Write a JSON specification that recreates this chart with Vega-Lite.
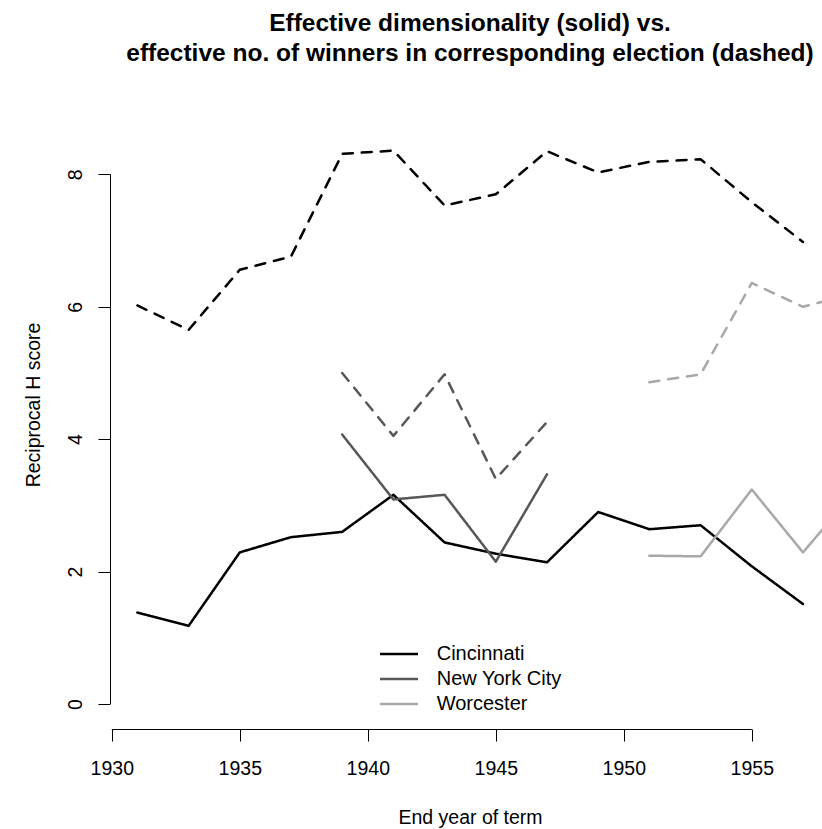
{
  "$schema": "https://vega.github.io/schema/vega-lite/v6.json",
  "width": 712,
  "height": 601,
  "autosize": {"type": "none"},
  "padding": {"left": 110, "top": 128, "right": 0, "bottom": 100},
  "background": "white",
  "config": {"view": {"stroke": null}, "font": "Liberation Sans"},
  "title": {
    "text": ["Effective dimensionality (solid) vs.", "effective no. of winners in corresponding election (dashed)"],
    "fontSize": 24.5,
    "fontWeight": "bold",
    "font": "Liberation Sans",
    "color": "black",
    "anchor": "middle",
    "offset": 62,
    "lineHeight": 30,
    "dx": 4
  },
  "datasets": {
    "series": [
      {"city": "Cincinnati", "kind": "dim", "year": 1931, "value": 1.38},
      {"city": "Cincinnati", "kind": "dim", "year": 1933, "value": 1.18},
      {"city": "Cincinnati", "kind": "dim", "year": 1935, "value": 2.29},
      {"city": "Cincinnati", "kind": "dim", "year": 1937, "value": 2.52},
      {"city": "Cincinnati", "kind": "dim", "year": 1939, "value": 2.60},
      {"city": "Cincinnati", "kind": "dim", "year": 1941, "value": 3.16},
      {"city": "Cincinnati", "kind": "dim", "year": 1943, "value": 2.44},
      {"city": "Cincinnati", "kind": "dim", "year": 1945, "value": 2.27},
      {"city": "Cincinnati", "kind": "dim", "year": 1947, "value": 2.14},
      {"city": "Cincinnati", "kind": "dim", "year": 1949, "value": 2.90},
      {"city": "Cincinnati", "kind": "dim", "year": 1951, "value": 2.64},
      {"city": "Cincinnati", "kind": "dim", "year": 1953, "value": 2.70},
      {"city": "Cincinnati", "kind": "dim", "year": 1955, "value": 2.08},
      {"city": "Cincinnati", "kind": "dim", "year": 1957, "value": 1.51},
      {"city": "Cincinnati", "kind": "win", "year": 1931, "value": 6.02},
      {"city": "Cincinnati", "kind": "win", "year": 1933, "value": 5.65},
      {"city": "Cincinnati", "kind": "win", "year": 1935, "value": 6.56},
      {"city": "Cincinnati", "kind": "win", "year": 1937, "value": 6.76},
      {"city": "Cincinnati", "kind": "win", "year": 1939, "value": 8.31},
      {"city": "Cincinnati", "kind": "win", "year": 1941, "value": 8.36},
      {"city": "Cincinnati", "kind": "win", "year": 1943, "value": 7.53},
      {"city": "Cincinnati", "kind": "win", "year": 1945, "value": 7.70},
      {"city": "Cincinnati", "kind": "win", "year": 1947, "value": 8.35},
      {"city": "Cincinnati", "kind": "win", "year": 1949, "value": 8.03},
      {"city": "Cincinnati", "kind": "win", "year": 1951, "value": 8.19},
      {"city": "Cincinnati", "kind": "win", "year": 1953, "value": 8.23},
      {"city": "Cincinnati", "kind": "win", "year": 1955, "value": 7.58},
      {"city": "Cincinnati", "kind": "win", "year": 1957, "value": 6.98},
      {"city": "New York City", "kind": "dim", "year": 1939, "value": 4.07},
      {"city": "New York City", "kind": "dim", "year": 1941, "value": 3.09},
      {"city": "New York City", "kind": "dim", "year": 1943, "value": 3.16},
      {"city": "New York City", "kind": "dim", "year": 1945, "value": 2.15},
      {"city": "New York City", "kind": "dim", "year": 1947, "value": 3.47},
      {"city": "New York City", "kind": "win", "year": 1939, "value": 5.00},
      {"city": "New York City", "kind": "win", "year": 1941, "value": 4.05},
      {"city": "New York City", "kind": "win", "year": 1943, "value": 4.98},
      {"city": "New York City", "kind": "win", "year": 1945, "value": 3.40},
      {"city": "New York City", "kind": "win", "year": 1947, "value": 4.26},
      {"city": "Worcester", "kind": "dim", "year": 1951, "value": 2.24},
      {"city": "Worcester", "kind": "dim", "year": 1953, "value": 2.23},
      {"city": "Worcester", "kind": "dim", "year": 1955, "value": 3.24},
      {"city": "Worcester", "kind": "dim", "year": 1957, "value": 2.29},
      {"city": "Worcester", "kind": "dim", "year": 1959, "value": 3.20},
      {"city": "Worcester", "kind": "win", "year": 1951, "value": 4.86},
      {"city": "Worcester", "kind": "win", "year": 1953, "value": 4.98},
      {"city": "Worcester", "kind": "win", "year": 1955, "value": 6.36},
      {"city": "Worcester", "kind": "win", "year": 1957, "value": 6.00},
      {"city": "Worcester", "kind": "win", "year": 1959, "value": 6.20}
    ],
    "xaxisline": [{"from": 1930, "to": 1955}],
    "yaxisline": [{"from": 0, "to": 8}]
  },
  "layer": [
    {
      "data": {"name": "series"},
      "mark": {"type": "line", "strokeWidth": 2.5, "clip": true, "strokeCap": "round", "strokeJoin": "round"},
      "encoding": {
        "x": {
          "field": "year", "type": "quantitative",
          "scale": {"domain": [1929.93, 1957.7425], "nice": false, "zero": false},
          "axis": {
            "values": [1930, 1935, 1940, 1945, 1950, 1955],
            "format": "d",
            "domain": false, "grid": false,
            "tickSize": 12, "tickColor": "black", "tickWidth": 1,
            "labelFontSize": 19.5, "labelColor": "black", "labelFont": "Liberation Sans",
            "labelPadding": 27, "labelBaseline": "middle", "labelFlush": false, "labelOverlap": false,
            "title": "End year of term",
            "titleFontSize": 19.5, "titleFontWeight": "normal", "titleColor": "black", "titleFont": "Liberation Sans",
            "titleX": 360, "titleY": 88, "titleBaseline": "middle", "titleAlign": "center", "titleAnchor": null
          }
        },
        "y": {
          "field": "value", "type": "quantitative",
          "scale": {"domain": [-0.378, 8.701], "nice": false, "zero": false},
          "axis": {
            "values": [0, 2, 4, 6, 8],
            "format": "d",
            "domain": false, "grid": false,
            "tickSize": 12, "tickColor": "black", "tickWidth": 1,
            "labelFontSize": 19.5, "labelColor": "black", "labelFont": "Liberation Sans",
            "labelAngle": 270, "labelAlign": "center", "labelBaseline": "middle",
            "labelPadding": 23, "labelFlush": false, "labelOverlap": false,
            "title": "Reciprocal H score",
            "titleFontSize": 19.5, "titleFontWeight": "normal", "titleColor": "black", "titleFont": "Liberation Sans",
            "titleAngle": 270, "titleX": -77, "titleY": 276.5, "titleBaseline": "middle", "titleAlign": "center", "titleAnchor": null
          }
        },
        "color": {
          "field": "city", "type": "nominal",
          "scale": {"domain": ["Cincinnati", "New York City", "Worcester"], "range": ["#000000", "#575757", "#a8a8a8"]},
          "legend": {
            "orient": "none", "legendX": 274.5, "legendY": 511.5,
            "title": null, "padding": 0,
            "symbolType": "M-1.434,0H1.434", "symbolSize": 702, "symbolStrokeWidth": 2.5,
            "symbolFillColor": "transparent",
            "labelFontSize": 20, "labelFont": "Liberation Sans", "labelColor": "black",
            "labelOffset": 23.2, "rowPadding": 0
          }
        },
        "strokeDash": {
          "field": "kind", "type": "nominal",
          "scale": {"domain": ["dim", "win"], "range": [[1, 0], [10, 9]]},
          "legend": null
        }
      }
    },
    {
      "data": {"name": "xaxisline"},
      "mark": {"type": "rule", "color": "black", "strokeWidth": 1},
      "encoding": {
        "x": {"field": "from", "type": "quantitative"},
        "x2": {"field": "to"},
        "y": {"datum": -0.3856, "type": "quantitative"}
      }
    },
    {
      "data": {"name": "yaxisline"},
      "mark": {"type": "rule", "color": "black", "strokeWidth": 1},
      "encoding": {
        "x": {"datum": 1929.9495, "type": "quantitative"},
        "y": {"field": "from", "type": "quantitative"},
        "y2": {"field": "to"}
      }
    }
  ]
}
